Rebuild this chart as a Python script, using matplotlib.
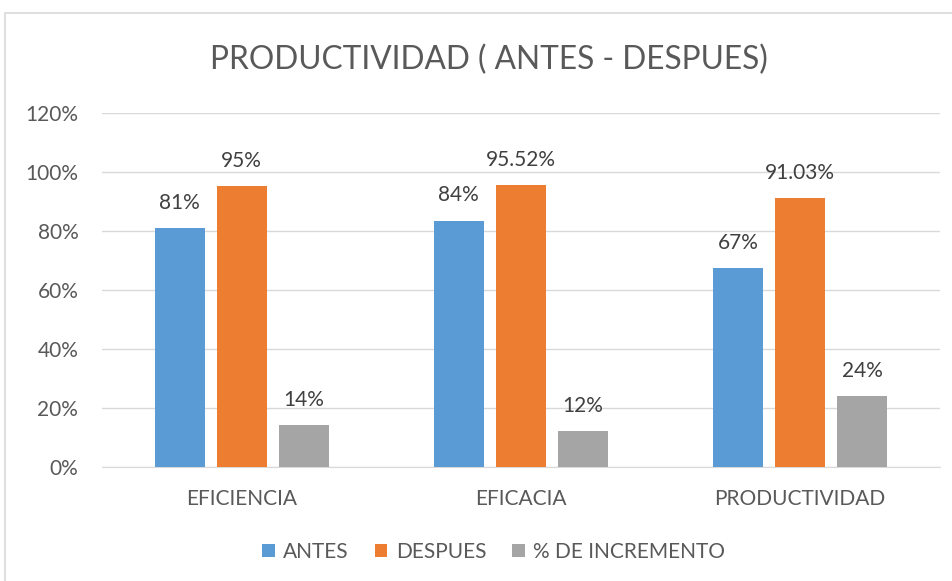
import matplotlib.pyplot as plt
from matplotlib.patches import Rectangle
import numpy as np

categories = ["EFICIENCIA", "EFICACIA", "PRODUCTIVIDAD"]
series_names = ["ANTES", "DESPUES", "% DE INCREMENTO"]
antes = [0.81, 0.835, 0.675]
despues = [0.952, 0.9552, 0.9103]
incremento = [0.142, 0.122, 0.241]
antes_labels = ["81%", "84%", "67%"]
despues_labels = ["95%", "95.52%", "91.03%"]
incremento_labels = ["14%", "12%", "24%"]
yticks = [0, 0.2, 0.4, 0.6, 0.8, 1.0, 1.2]

colors = ["#5B9BD5", "#ED7D31", "#A5A5A5"]
text_color = "#595959"
plt.rcParams["font.family"] = ["Lato", "DejaVu Sans"]

fig = plt.figure(figsize=(9.53, 5.81), dpi=100)
ax = fig.add_axes([0.107, 0.196, 0.879, 0.6095])

# chart border
fig.patches.append(Rectangle((5 / 953, -0.1), 1.1, 1 - 13 / 581 + 0.1,
                             transform=fig.transFigure, fill=False,
                             edgecolor="#D9D9D9", linewidth=1.2))

x = np.arange(len(categories))
width = 0.179
offset = 0.222
data = [antes, despues, incremento]
labels = [antes_labels, despues_labels, incremento_labels]
handles = []
for i, (vals, labs) in enumerate(zip(data, labels)):
    bars = ax.bar(x + (i - 1) * offset, vals, width, color=colors[i],
                  label=series_names[i], zorder=3)
    handles.append(bars)
    for b, lab in zip(bars, labs):
        ax.text(b.get_x() + b.get_width() / 2, b.get_height() + 0.052, lab,
                ha="center", va="bottom", fontsize=15, color="#404040")

ax.set_xlim(-0.5, 2.5)
ax.set_ylim(0, 1.2)
ax.set_yticks(yticks)
ax.set_yticklabels([f"{int(round(t * 100))}%" for t in yticks])
ax.set_xticks(x)
ax.set_xticklabels(categories)
ax.tick_params(axis="both", length=0, labelsize=15, colors=text_color)
ax.tick_params(axis="x", pad=16)
ax.tick_params(axis="y", pad=17)
ax.grid(axis="y", color="#D9D9D9", linewidth=1, zorder=0)
for s in ["top", "right", "left"]:
    ax.spines[s].set_visible(False)
ax.spines["bottom"].set_color("#D9D9D9")

fig.text(0.513, 0.897, "PRODUCTIVIDAD ( ANTES - DESPUES)", ha="center",
         va="center", fontsize=22.8, color=text_color)

fig.legend(handles=handles, loc="center", bbox_to_anchor=(0.518, 0.05),
           ncol=3, frameon=False, fontsize=15, labelcolor=text_color,
           handlelength=0.6, handleheight=0.6, handletextpad=0.4,
           columnspacing=1.25)

fig.savefig("out.png", dpi=100)
